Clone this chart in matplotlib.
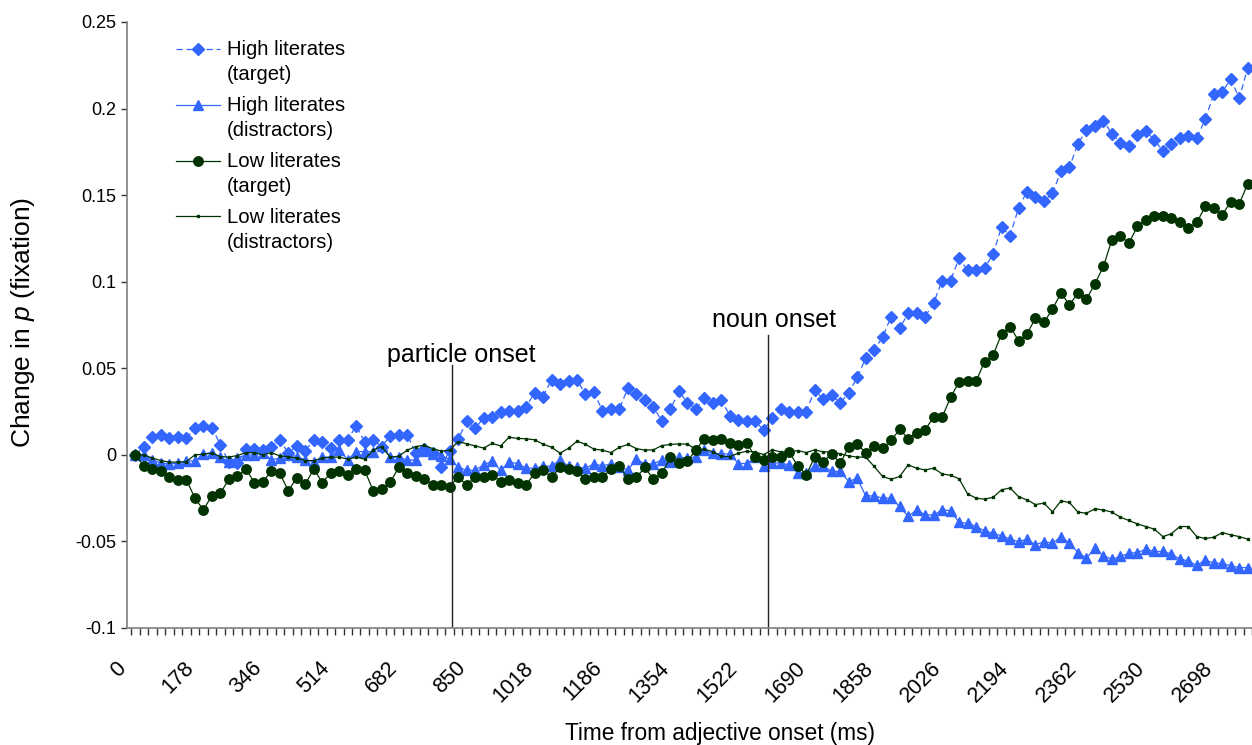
import numpy as np
import matplotlib
matplotlib.use('Agg')
import matplotlib.pyplot as plt
from matplotlib.legend_handler import HandlerLine2D

plt.rcParams['font.family'] = ['Liberation Sans', 'DejaVu Sans']
plt.rcParams['mathtext.fontset'] = 'custom'
plt.rcParams['mathtext.it'] = 'Liberation Sans:italic'
plt.rcParams['mathtext.rm'] = 'Liberation Sans'
plt.rcParams['font.size'] = 13

# change in p(fixation), one value per time bin (132 bins)
high_target = [
    0, 0.0048, 0.0106, 0.0116, 0.0096, 0.0106, 0.0096, 0.0158, 0.0168, 0.0158, 0.0058, -0.0044, -0.0048, 0.0033, 0.0033, 0.0029,
    0.0048, 0.0087, 0.0010, 0.0052, 0.0023, 0.0087, 0.0073, 0.0039, 0.0087, 0.0087, 0.0168, 0.0073, 0.0087, 0.0048, 0.0110, 0.0113,
    0.0116, 0.0013, 0.0033, 0.0010, -0.0071, 0.0025, 0.0091, 0.0193, 0.0154, 0.0212, 0.0218, 0.0250, 0.0254, 0.0254, 0.0275, 0.0360,
    0.0337, 0.0433, 0.0410, 0.0424, 0.0433, 0.0350, 0.0362, 0.0254, 0.0264, 0.0264, 0.0389, 0.0352, 0.0314, 0.0279, 0.0193, 0.0264,
    0.0366, 0.0302, 0.0264, 0.0327, 0.0302, 0.0314, 0.0227, 0.0202, 0.0193, 0.0193, 0.0144, 0.0212, 0.0264, 0.0250, 0.0250, 0.0250,
    0.0376, 0.0322, 0.0347, 0.0298, 0.0360, 0.0447, 0.0558, 0.0607, 0.0680, 0.0799, 0.0730, 0.0818, 0.0818, 0.0799, 0.0876, 0.1007,
    0.1007, 0.1136, 0.1065, 0.1065, 0.1078, 0.1159, 0.1315, 0.1265, 0.1425, 0.1521, 0.1489, 0.1464, 0.1512, 0.1637, 0.1662, 0.1795,
    0.1878, 0.1901, 0.1930, 0.1854, 0.1804, 0.1781, 0.1845, 0.1872, 0.1816, 0.1756, 0.1795, 0.1829, 0.1843, 0.1829, 0.1939, 0.2084,
    0.2097, 0.2170, 0.2060, 0.2236,
]
high_distr = [
    0, 0, -0.0029, -0.0048, -0.0052, -0.0048, -0.0035, -0.0035, 0.0006, 0.0013, -0.0015, -0.0039, -0.0019, 0.0, 0.0, 0.0013,
    -0.0029, -0.0019, 0.0, -0.0010, -0.0029, -0.0039, -0.0013, -0.0013, 0.0029, -0.0029, 0.0019, 0.0019, 0.0019, 0.0052, -0.0013, -0.0013,
    -0.0031, -0.0029, 0.0025, 0.0005, -0.0006, -0.0025, -0.0071, -0.0089, -0.0089, -0.0058, -0.0036, -0.0089, -0.0042, -0.0050, -0.0077, -0.0077,
    -0.0067, -0.0064, -0.0029, -0.0067, -0.0071, -0.0077, -0.0052, -0.0064, -0.0052, -0.0071, -0.0087, -0.0025, -0.0052, -0.0052, -0.0029, -0.0039,
    -0.0015, -0.0018, -0.0012, 0.0027, 0.0008, 0.0006, 0.0005, -0.0050, -0.0050, -0.0015, -0.0064, -0.0045, -0.0048, -0.0058, -0.0106, -0.0102,
    -0.0064, -0.0064, -0.0096, -0.0096, -0.0154, -0.0135, -0.0237, -0.0237, -0.0250, -0.0250, -0.0298, -0.0356, -0.0318, -0.0347, -0.0347, -0.0318,
    -0.0322, -0.0390, -0.0395, -0.0414, -0.0439, -0.0453, -0.0468, -0.0487, -0.0501, -0.0487, -0.0520, -0.0501, -0.0510, -0.0472, -0.0510, -0.0564,
    -0.0597, -0.0539, -0.0583, -0.0603, -0.0587, -0.0568, -0.0564, -0.0545, -0.0558, -0.0558, -0.0572, -0.0603, -0.0612, -0.0639, -0.0607, -0.0626,
    -0.0626, -0.0641, -0.0651, -0.0651,
]
low_target = [
    0, -0.0064, -0.0081, -0.0094, -0.0129, -0.0144, -0.0144, -0.0250, -0.0318, -0.0235, -0.0221, -0.0141, -0.0125, -0.0081, -0.0160, -0.0158,
    -0.0092, -0.0106, -0.0208, -0.0131, -0.0169, -0.0081, -0.0160, -0.0104, -0.0096, -0.0119, -0.0081, -0.0089, -0.0208, -0.0198, -0.0158, -0.0073,
    -0.0106, -0.0121, -0.0141, -0.0173, -0.0173, -0.0183, -0.0129, -0.0173, -0.0129, -0.0129, -0.0116, -0.0154, -0.0144, -0.0160, -0.0173, -0.0106,
    -0.0087, -0.0129, -0.0073, -0.0083, -0.0091, -0.0141, -0.0129, -0.0129, -0.0083, -0.0064, -0.0141, -0.0129, -0.0073, -0.0141, -0.0106, -0.0015,
    -0.0048, -0.0037, 0.0029, 0.0094, 0.0083, 0.0094, 0.0067, 0.0055, 0.0067, -0.0010, -0.0027, -0.0010, -0.0010, 0.0015, -0.0064, -0.0116,
    -0.0013, -0.0039, 0.0006, -0.0048, 0.0044, 0.0064, 0.0010, 0.0054, 0.0039, 0.0083, 0.0148, 0.0094, 0.0129, 0.0144, 0.0218, 0.0218,
    0.0332, 0.0422, 0.0424, 0.0424, 0.0539, 0.0574, 0.0698, 0.0741, 0.0660, 0.0699, 0.0790, 0.0765, 0.0842, 0.0934, 0.0867, 0.0934,
    0.0899, 0.0988, 0.1088, 0.1242, 0.1265, 0.1223, 0.1319, 0.1358, 0.1381, 0.1381, 0.1367, 0.1342, 0.1308, 0.1342, 0.1435, 0.1423,
    0.1386, 0.1463, 0.1450, 0.1566,
]
low_distr = [
    0, 0, -0.0019, -0.0033, -0.0042, -0.0042, -0.0039, 0, 0.0004, 0.0010, -0.0010, -0.0013, -0.0004, 0.0013, 0.0013, 0,
    0.0013, -0.0006, -0.0010, -0.0019, -0.0033, -0.0033, -0.0019, -0.0013, -0.0013, -0.0025, -0.0013, -0.0025, 0.0029, 0.0048, -0.0013, -0.0008,
    0.0027, 0.0048, 0.0055, 0.0036, 0.0022, 0.0026, 0.0077, 0.0064, 0.0052, 0.0039, 0.0066, 0.0052, 0.0102, 0.0095, 0.0093, 0.0087,
    0.0062, 0.0044, 0.0010, 0.0038, 0.0079, 0.0061, 0.0033, 0.0027, 0.0013, 0.0044, 0.0060, 0.0036, 0.0027, 0.0029, 0.0054, 0.0060,
    0.0063, 0.0062, 0.0032, 0.0031, 0.0019, -0.0008, -0.0010, 0.0010, 0.0021, 0.0016, 0.0002, 0.0029, 0.0017, 0.0017, 0.0025, 0.0013,
    0.0029, 0.0017, 0.0017, 0.0006, -0.0006, -0.0013, -0.0013, -0.0067, -0.0125, -0.0141, -0.0125, -0.0058, -0.0077, -0.0087, -0.0077, -0.0110,
    -0.0118, -0.0138, -0.0225, -0.0250, -0.0256, -0.0245, -0.0202, -0.0191, -0.0241, -0.0260, -0.0287, -0.0279, -0.0329, -0.0266, -0.0275, -0.0331,
    -0.0337, -0.0312, -0.0318, -0.0331, -0.0360, -0.0379, -0.0399, -0.0414, -0.0429, -0.0472, -0.0456, -0.0414, -0.0414, -0.0472, -0.0483, -0.0476,
    -0.0449, -0.0462, -0.0472, -0.0487,
]

tick_labels = ['0', '178', '346', '514', '682', '850', '1018', '1186', '1354',
               '1522', '1690', '1858', '2026', '2194', '2362', '2530', '2698']
label_every = 8

# onset markers, in category units
particle_onset = 37.25
noun_onset = 74.5

blue = '#3366FF'
green = '#003300'

n = len(high_target)
x = np.arange(n)

fig = plt.figure(figsize=(12.52, 7.45), dpi=100)
ax = fig.add_axes([127/1252., 117/745., 1125/1252., 606/745.])

ax.plot(x, high_target, color=blue, ls=(0, (5, 3)), lw=0.9, marker='D', ms=6,
        mec=blue, mfc=blue, label='High literates\n(target)')
ax.plot(x, high_distr, color=blue, ls='-', lw=0.9, marker='^', ms=6.5,
        mec=blue, mfc=blue, label='High literates\n(distractors)')
ax.plot(x, low_target, color=green, ls='-', lw=0.9, marker='o', ms=6.8,
        mec=green, mfc=green, label='Low literates\n(target)')
ax.plot(x, low_distr, color=green, ls='-', lw=0.9, marker='s', ms=1.6,
        mec=green, mfc=green, label='Low literates\n(distractors)')

ymin, ymax = -0.1, 0.25
ax.axvline(particle_onset, ymin=0, ymax=(0.052 - ymin)/(ymax - ymin), color='#222222', lw=1)
ax.axvline(noun_onset, ymin=0, ymax=(0.0693 - ymin)/(ymax - ymin), color='#222222', lw=1)
ax.text(particle_onset + 1.1, 0.0535, 'particle onset', ha='center', va='baseline', fontsize=18)
ax.text(noun_onset + 0.7, 0.074, 'noun onset', ha='center', va='baseline', fontsize=18)

ax.set_xlim(-0.5, n - 0.5)
ax.set_ylim(ymin, ymax)

# labels sit one category left of the bin they name (rotated text ends there)
ax.set_xticks(x[::label_every][:len(tick_labels)] - 1.0)
ax.set_xticklabels(tick_labels, rotation=45, ha='right', va='baseline', rotation_mode='anchor')
ax.set_xticks(np.arange(-0.5, n, 1), minor=True)
ax.tick_params(axis='x', which='major', length=0, pad=29.5, labelsize=15.5)
ax.tick_params(axis='x', which='minor', length=5, width=1, color='#333333', direction='out')

yt = np.arange(-0.1, 0.2501, 0.05)
ax.set_yticks(yt)
ax.set_yticklabels(['%g' % round(v, 2) for v in yt])
ax.tick_params(axis='y', length=4, width=1, color='#333333', direction='out', labelsize=13, pad=4)

for s in ['top', 'right']:
    ax.spines[s].set_visible(False)
for s in ['left', 'bottom']:
    ax.spines[s].set_color('#808080')
    ax.spines[s].set_linewidth(1.2)

ax.set_xlabel('Time from adjective onset (ms)', fontsize=16.3)
ax.xaxis.set_label_coords(0.527, -0.155)
ax.set_ylabel('Change in $p$ (fixation)', fontsize=19)
ax.yaxis.set_label_coords(-0.080, 0.505)

leg_fs = 14.6
leg_ls = 1.36


class UpHandler(HandlerLine2D):
    # put the legend symbol on the first line of a two-line label
    def create_artists(self, legend, orig_handle, xdescent, ydescent, width, height, fontsize, trans):
        return super().create_artists(legend, orig_handle, xdescent, ydescent - leg_ls*fontsize,
                                      width, height, fontsize, trans)


leg = ax.legend(loc='upper left', bbox_to_anchor=(0.027, 1.0), frameon=False,
                handlelength=2.17, handletextpad=0.35, labelspacing=0.62, fontsize=leg_fs,
                handler_map={matplotlib.lines.Line2D: UpHandler()})
for t in leg.get_texts():
    t.set_linespacing(leg_ls)

fig.savefig('out.png', dpi=100)
